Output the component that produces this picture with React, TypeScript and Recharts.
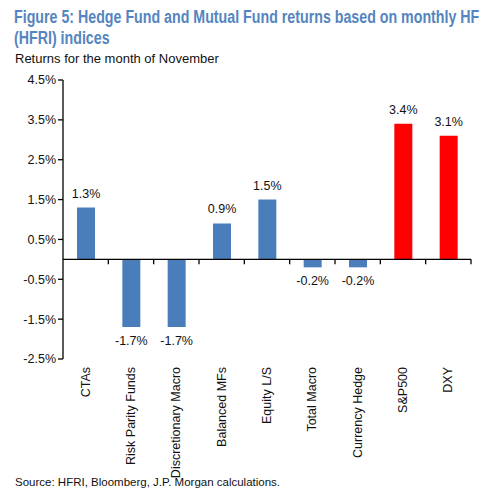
import { BarChart, Bar, XAxis, YAxis, Cell, LabelList, ReferenceLine } from "recharts";

const categories = [
  "CTAs",
  "Risk Parity Funds",
  "Discretionary Macro",
  "Balanced MFs",
  "Equity L/S",
  "Total Macro",
  "Currency Hedge",
  "S&P500",
  "DXY",
];
const returns = [1.3, -1.7, -1.7, 0.9, 1.5, -0.2, -0.2, 3.4, 3.1];
const benchmarks = ["S&P500", "DXY"];
const yTicks = [-2.5, -1.5, -0.5, 0.5, 1.5, 2.5, 3.5, 4.5];

const data = categories.map((name, i) => ({ name, value: returns[i] }));

const FONT = "'Liberation Sans', Arial, sans-serif";
const BLUE = "#4a7ebb";
const RED = "#ff0000";

const fmt = (v: number) => `${v.toFixed(1)}%`;

function CategoryTick(props: any) {
  const { x, y, payload } = props;
  return (
    <text
      transform={`translate(${x + 4},${y}) rotate(-90)`}
      textAnchor="end"
      fontSize={12.5}
      fontFamily={FONT}
      fill="#111"
    >
      {payload.value}
    </text>
  );
}

// zero line with tick marks at the category boundaries
function ZeroAxis(props: any) {
  const { x1, y1, x2 } = props;
  const n = categories.length;
  const step = (x2 - x1) / n;
  return (
    <g>
      <line x1={x1} y1={y1} x2={x2} y2={y1} stroke="#000" strokeWidth={1.3} />
      {categories.map((_, i) => (
        <line
          key={i}
          x1={x1 + step * (i + 1)}
          x2={x1 + step * (i + 1)}
          y1={y1}
          y2={y1 + 5}
          stroke="#000"
          strokeWidth={1.3}
        />
      ))}
    </g>
  );
}

function ValueLabel(props: any) {
  const { x, y, width, height, value } = props;
  const neg = value < 0;
  const top = Math.min(y, y + height);
  const bottom = Math.max(y, y + height);
  const ty = neg ? bottom + 18 : top - 10;
  return (
    <text
      x={x + width / 2}
      y={ty}
      textAnchor="middle"
      fontSize={12.5}
      fontFamily={FONT}
      fill="#111"
    >
      {fmt(value)}
    </text>
  );
}

export default function App() {
  return (
    <div style={{ position: "absolute", left: 0, top: 0, width: 500, height: 504, background: "#fff" }}>
      <div
        style={{
          position: "absolute",
          left: 14,
          top: 7,
          whiteSpace: "nowrap",
          transform: "scaleX(0.79)",
          transformOrigin: "left top",
          fontFamily: FONT,
          fontWeight: "bold",
          fontSize: 18,
          lineHeight: "21px",
          color: "#5585c0",
        }}
      >
        Figure 5: Hedge Fund and Mutual Fund returns based on monthly HF
        <br />
        (HFRI) indices
      </div>
      <div
        style={{
          position: "absolute",
          left: 15,
          top: 51,
          fontFamily: FONT,
          fontSize: 13,
          color: "#111",
        }}
      >
        Returns for the month of November
      </div>
      <div style={{ position: "absolute", left: 0, top: 0 }}>
        <BarChart
          width={500}
          height={504}
          data={data}
          margin={{ top: 80, right: 29, left: 13, bottom: 45 }}
          barSize={18}
        >
          <XAxis
            dataKey="name"
            axisLine={false}
            tickLine={false}
            height={100}
            interval={0}
            tick={<CategoryTick />}
          />
          <YAxis
            width={50}
            domain={[-2.5, 4.5]}
            ticks={yTicks}
            tickFormatter={fmt}
            axisLine={{ stroke: "#000", strokeWidth: 1.3 }}
            tickLine={{ stroke: "#000", strokeWidth: 1.3 }}
            tickSize={5}
            tick={{ fontSize: 12.5, fontFamily: FONT, fill: "#111" }}
          />
          <ReferenceLine y={0} shape={<ZeroAxis />} />
          <Bar dataKey="value" isAnimationActive={false}>
            {data.map((d) => (
              <Cell key={d.name} fill={benchmarks.includes(d.name) ? RED : BLUE} />
            ))}
            <LabelList dataKey="value" content={<ValueLabel />} />
          </Bar>
        </BarChart>
      </div>
      <div
        style={{
          position: "absolute",
          left: 15,
          top: 476,
          fontFamily: FONT,
          fontSize: 11.5,
          color: "#111",
        }}
      >
        Source: HFRI, Bloomberg, J.P. Morgan calculations.
      </div>
    </div>
  );
}
